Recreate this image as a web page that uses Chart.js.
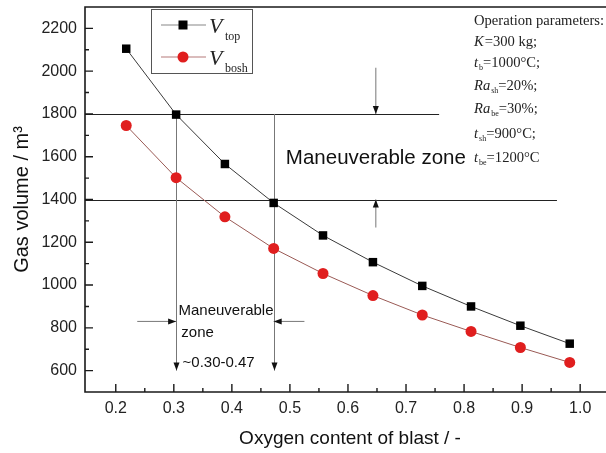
<!DOCTYPE html>
<html>
<head>
<meta charset="utf-8">
<script src="https://cdn.jsdelivr.net/npm/chart.js@4.4.0/dist/chart.umd.min.js"></script>
<style>
  html, body { margin: 0; padding: 0; background: #fff; overflow: hidden; }
  #wrap { width: 606px; height: 453px; overflow: hidden; }
  #gasChart { display: block; }
</style>
</head>
<body>
<div id="wrap"><canvas id="gasChart" width="615" height="453"></canvas></div>
<script>
// values
const oxygenContent = [0.218, 0.304, 0.388, 0.472, 0.557, 0.643, 0.728, 0.812, 0.897, 0.982];
const vTop  = [2105, 1797, 1566, 1384, 1232, 1107, 996, 900, 810, 726];
const vBosh = [1746, 1502, 1319, 1171, 1054, 951, 860, 783, 708, 638];

const xTicks = [0.2, 0.3, 0.4, 0.5, 0.6, 0.7, 0.8, 0.9, 1.0];
const xMinor = [0.25, 0.35, 0.45, 0.55, 0.65, 0.75, 0.85, 0.95];
const yTicks = [600, 800, 1000, 1200, 1400, 1600, 1800, 2000, 2200];
const yMinor = [700, 900, 1100, 1300, 1500, 1700, 1900, 2100];

// annotation geometry in data units
const zoneLines = [            // horizontal limits of the zone
  { y: 1800, x1: 0.147, x2: 0.757 },
  { y: 1400, x1: 0.147, x2: 0.96 }
];
const zoneDrops = [            // vertical lines down to the x range
  { x: 0.304, y1: 1800, y2: 600 },
  { x: 0.472, y1: 1800, y2: 600 }
];
const zoneArrows = [           // [x1, y1, x2, y2], head at the second point
  [0.648, 2016, 0.648, 1800],
  [0.648, 1269, 0.648, 1400],
  [0.237, 830, 0.304, 830],
  [0.525, 830, 0.472, 830]
];

const opParams = [
  [['Operation parameters:', 'n']],
  [['K', 'i'], ['=300 kg;', 'n']],
  [['t', 'i'], ['b', 's'], ['=1000°C;', 'n']],
  [['Ra', 'i'], ['sh', 's'], ['=20%;', 'n']],
  [['Ra', 'i'], ['be', 's'], ['=30%;', 'n']],
  [['t', 'i'], ['sh', 's'], ['=900°C;', 'n']],
  [['t', 'i'], ['be', 's'], ['=1200°C', 'n']]
];

const SANS = '"Liberation Sans", Arial, sans-serif';
const SERIF = '"Liberation Serif", "Times New Roman", serif';

function arrow(ctx, x1, y1, x2, y2) {
  ctx.beginPath();
  ctx.moveTo(x1, y1);
  ctx.lineTo(x2, y2);
  ctx.stroke();
  const a = Math.atan2(y2 - y1, x2 - x1);
  const len = 8, w = 3;
  ctx.beginPath();
  ctx.moveTo(x2, y2);
  ctx.lineTo(x2 - len * Math.cos(a) + w * Math.sin(a), y2 - len * Math.sin(a) - w * Math.cos(a));
  ctx.lineTo(x2 - len * Math.cos(a) - w * Math.sin(a), y2 - len * Math.sin(a) + w * Math.cos(a));
  ctx.closePath();
  ctx.fill();
}

function drawRuns(ctx, runs, x, y, size) {
  runs.forEach(([txt, st]) => {
    const sub = st === 's';
    ctx.font = (st === 'i' ? 'italic ' : '') + (sub ? size * 0.55 : size) + 'px ' + SERIF;
    ctx.fillText(txt, x, y + (sub ? size * 0.32 : 0));
    x += ctx.measureText(txt).width + (st === 'i' ? 1 : 0);
  });
}

const annotations = {
  id: 'annotations',
  beforeDatasetsDraw(chart) {
    const ctx = chart.ctx;
    const sx = v => chart.scales.x.getPixelForValue(v);
    const sy = v => chart.scales.y.getPixelForValue(v);
    ctx.save();
    ctx.lineWidth = 1.2;
    ctx.strokeStyle = '#222';
    zoneLines.forEach(l => {
      ctx.beginPath();
      ctx.moveTo(sx(l.x1), Math.round(sy(l.y)) + 0.5);
      ctx.lineTo(sx(l.x2), Math.round(sy(l.y)) + 0.5);
      ctx.stroke();
    });
    ctx.lineWidth = 1;
    ctx.strokeStyle = '#777';
    ctx.fillStyle = '#111';
    zoneDrops.forEach(d => {
      const px = Math.round(sx(d.x)) + 0.5;
      arrow(ctx, px, sy(d.y1), px, sy(d.y2));
    });
    zoneArrows.forEach(a => arrow(ctx, sx(a[0]), sy(a[1]), sx(a[2]), sy(a[3])));

    ctx.fillStyle = '#111';
    ctx.textBaseline = 'middle';
    ctx.textAlign = 'left';
    ctx.font = '20.5px ' + SANS;
    ctx.fillText('Maneuverable zone', sx(0.493), sy(1592));
    ctx.font = '15px ' + SANS;
    ctx.fillText('Maneuverable', sx(0.308), sy(881));
    ctx.fillText('zone', sx(0.313), sy(778));
    ctx.fillText('~0.30-0.47', sx(0.315), sy(637));

    ctx.fillStyle = '#222';
    const rowsY = [21, 42, 63, 86, 109, 134, 158];
    opParams.forEach((runs, i) => drawRuns(ctx, runs, 474, rowsY[i], 14.6));
    ctx.restore();
  },
  afterDraw(chart) {
    const ctx = chart.ctx;
    const a = chart.chartArea;
    const sx = v => chart.scales.x.getPixelForValue(v);
    const sy = v => chart.scales.y.getPixelForValue(v);
    ctx.save();
    // frame: left, top and bottom (right side lies past the page edge)
    ctx.strokeStyle = '#1a1a1a';
    ctx.lineWidth = 1.6;
    ctx.beginPath();
    ctx.moveTo(a.right, a.top);
    ctx.lineTo(a.left, a.top);
    ctx.lineTo(a.left, a.bottom);
    ctx.lineTo(a.right, a.bottom);
    ctx.stroke();
    // inward ticks
    ctx.lineWidth = 1.4;
    ctx.beginPath();
    xTicks.forEach(v => { ctx.moveTo(sx(v), a.bottom); ctx.lineTo(sx(v), a.bottom - 8); });
    xMinor.forEach(v => { ctx.moveTo(sx(v), a.bottom); ctx.lineTo(sx(v), a.bottom - 4); });
    yTicks.forEach(v => { ctx.moveTo(a.left, sy(v)); ctx.lineTo(a.left + 8, sy(v)); });
    yMinor.forEach(v => { ctx.moveTo(a.left, sy(v)); ctx.lineTo(a.left + 4, sy(v)); });
    ctx.stroke();

    // legend box
    const lx = 151, ly = 9, lw = 101, lh = 64;
    ctx.fillStyle = '#fff';
    ctx.fillRect(lx, ly, lw, lh);
    ctx.strokeStyle = '#555';
    ctx.lineWidth = 1;
    ctx.strokeRect(lx + 0.5, ly + 0.5, lw, lh);
    const rows = [
      { y: 25, line: '#888', sub: 'top', style: 'rect', color: '#000' },
      { y: 57, line: '#b57a7a', sub: 'bosh', style: 'circle', color: '#e01e1e' }
    ];
    rows.forEach(r => {
      ctx.strokeStyle = r.line;
      ctx.lineWidth = 1.2;
      ctx.beginPath();
      ctx.moveTo(161, r.y); ctx.lineTo(206, r.y);
      ctx.stroke();
      ctx.fillStyle = r.color;
      if (r.style === 'rect') ctx.fillRect(183 - 4.5, r.y - 4.5, 9, 9);
      else { ctx.beginPath(); ctx.arc(183, r.y, 5.5, 0, Math.PI * 2); ctx.fill(); }
      ctx.fillStyle = '#222';
      ctx.textBaseline = 'alphabetic';
      ctx.font = 'italic 22px ' + SERIF;
      ctx.fillText('V', 209, r.y + 8);
      ctx.font = '12px ' + SERIF;
      ctx.fillText(r.sub, 225, r.y + 15);
    });
    ctx.restore();
  }
};

const ctx = document.getElementById('gasChart').getContext('2d');
new Chart(ctx, {
  type: 'scatter',
  data: {
    datasets: [
      {
        label: 'V top',
        data: oxygenContent.map((x, i) => ({ x: x, y: vTop[i] })),
        showLine: true,
        borderColor: '#3a3a3a',
        borderWidth: 1,
        pointStyle: 'rect',
        pointRadius: 6,
        pointBackgroundColor: '#000',
        pointBorderWidth: 0
      },
      {
        label: 'V bosh',
        data: oxygenContent.map((x, i) => ({ x: x, y: vBosh[i] })),
        showLine: true,
        borderColor: '#9a5a55',
        borderWidth: 1,
        pointStyle: 'circle',
        pointRadius: 5.5,
        pointBackgroundColor: '#e01e1e',
        pointBorderWidth: 0
      }
    ]
  },
  options: {
    responsive: false,
    animation: false,
    layout: { autoPadding: false, padding: { top: 7, right: 0, left: 0, bottom: 0 } },
    plugins: { legend: { display: false }, tooltip: { enabled: false } },
    scales: {
      x: {
        type: 'linear',
        min: 0.147,
        max: 1.06,
        afterBuildTicks: s => { s.ticks = xTicks.map(v => ({ value: v })); },
        afterFit: s => { s.height = 61; s.paddingRight = 0; s.paddingLeft = 0; },
        grid: { display: false, drawTicks: false },
        border: { display: false },
        ticks: {
          padding: 7,
          color: '#222',
          font: { family: SANS, size: 16 },
          callback: v => v.toFixed(1)
        },
        title: {
          display: true,
          text: 'Oxygen content of blast / -',
          color: '#111',
          font: { family: SANS, size: 19 },
          padding: { top: 0, bottom: 3 }
        }
      },
      y: {
        type: 'linear',
        min: 500,
        max: 2300,
        afterBuildTicks: s => { s.ticks = yTicks.map(v => ({ value: v })); },
        afterFit: s => { s.width = 85; s.paddingTop = 0; s.paddingBottom = 0; },
        grid: { display: false, drawTicks: false },
        border: { display: false },
        ticks: {
          padding: 8,
          color: '#222',
          font: { family: SANS, size: 16 },
          callback: v => String(v)
        },
        title: {
          display: true,
          text: 'Gas volume / m³',
          color: '#111',
          font: { family: SANS, size: 20 },
          padding: { top: 10, bottom: 0 }
        }
      }
    }
  },
  plugins: [annotations]
});
</script>
</body>
</html>
